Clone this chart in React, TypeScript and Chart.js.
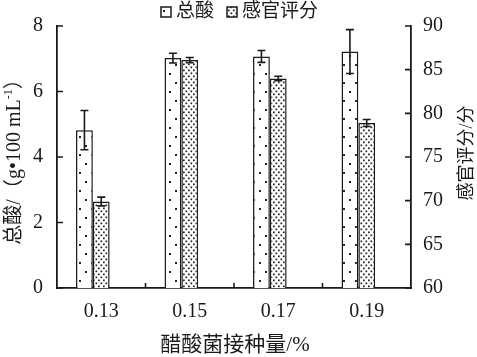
import React, { useEffect, useRef } from "react";
import { Chart, registerables } from "chart.js";

Chart.register(...registerables);

const categories = ["0.13", "0.15", "0.17", "0.19"];
const totalAcid = [4.82, 7.02, 7.07, 7.22];
const totalAcidErr = [0.6, 0.15, 0.18, 0.67];
const sensoryScore = [69.9, 86.1, 84.0, 78.9];
const sensoryErr = [0.5, 0.3, 0.25, 0.4];
const seriesNames = ["总酸", "感官评分"];
const xTitle = "醋酸菌接种量/%";
const leftTitleMain = "总酸/（g•100 mL";
const leftTitleSup = "-1";
const leftTitleEnd = "）";
const rightTitle = "感官评分/分";

const SERIF = '"Liberation Serif", "Noto Sans CJK SC", serif';
const INK = "#1a1a1a";

function makePattern(kind: "sparse" | "dense"): CanvasPattern | string {
  const c = document.createElement("canvas");
  const ctx = c.getContext("2d");
  if (!ctx) return "#fff";
  if (kind === "sparse") {
    c.width = 12;
    c.height = 18;
    ctx.fillStyle = "#fff";
    ctx.fillRect(0, 0, 12, 18);
    ctx.fillStyle = "#222";
    ctx.fillRect(1, 1, 2, 2);
    ctx.fillRect(7, 10, 2, 2);
  } else {
    c.width = 5;
    c.height = 6;
    ctx.fillStyle = "#fff";
    ctx.fillRect(0, 0, 5, 6);
    ctx.fillStyle = "#222";
    ctx.fillRect(0.5, 0.5, 1.7, 1.7);
    ctx.fillRect(3, 3.5, 1.7, 1.7);
  }
  const p = ctx.createPattern(c, "repeat");
  return p || "#fff";
}

const errorBars = {
  id: "errorBars",
  afterDatasetsDraw(chart: any) {
    const ctx = chart.ctx;
    const errs = [totalAcidErr, sensoryErr];
    const vals = [totalAcid, sensoryScore];
    ctx.save();
    ctx.strokeStyle = INK;
    ctx.lineWidth = 1.6;
    [0, 1].forEach((di) => {
      const meta = chart.getDatasetMeta(di);
      const scale = chart.scales[chart.data.datasets[di].yAxisID];
      meta.data.forEach((bar: any, i: number) => {
        const v = vals[di][i];
        const e = errs[di][i];
        const yt = scale.getPixelForValue(v + e);
        const yb = scale.getPixelForValue(v - e);
        const x = bar.x;
        ctx.beginPath();
        ctx.moveTo(x, yt);
        ctx.lineTo(x, yb);
        ctx.moveTo(x - 4, yt);
        ctx.lineTo(x + 4, yt);
        ctx.moveTo(x - 4, yb);
        ctx.lineTo(x + 4, yb);
        ctx.stroke();
      });
    });
    ctx.restore();
  },
};

const decorations = {
  id: "decorations",
  afterDraw(chart: any) {
    const ctx = chart.ctx;
    const { left, right, bottom } = chart.chartArea;
    const yL = chart.scales.y;
    const yR = chart.scales.y1;
    const xs = chart.scales.x;
    ctx.save();
    ctx.strokeStyle = INK;
    ctx.lineWidth = 1.6;
    ctx.beginPath();
    yL.ticks.forEach((t: any) => {
      const y = yL.getPixelForValue(t.value);
      ctx.moveTo(left, y);
      ctx.lineTo(left + 6, y);
    });
    yR.ticks.forEach((t: any) => {
      const y = yR.getPixelForValue(t.value);
      ctx.moveTo(right - 6, y);
      ctx.lineTo(right, y);
    });
    for (let i = 0; i < categories.length - 1; i++) {
      const x = (xs.getPixelForValue(i) + xs.getPixelForValue(i + 1)) / 2;
      ctx.moveTo(x, bottom);
      ctx.lineTo(x, bottom - 5);
    }
    ctx.stroke();

    // legend
    ctx.fillStyle = INK;
    ctx.font = `19px ${SERIF}`;
    ctx.textBaseline = "middle";
    ctx.textAlign = "left";
    const pats = chart.data.datasets.slice(0, 2).map((d: any) => d.backgroundColor);
    let lx = 161;
    const ly = 12;
    seriesNames.forEach((name, i) => {
      ctx.fillStyle = pats[i];
      ctx.fillRect(lx, ly - 5, 10, 10);
      ctx.lineWidth = 1.5;
      ctx.strokeRect(lx, ly - 5, 10, 10);
      ctx.fillStyle = INK;
      ctx.fillText(name, lx + 15, ly);
      lx += 15 + ctx.measureText(name).width + 13;
    });

    // x title
    ctx.font = `21px ${SERIF}`;
    ctx.textAlign = "center";
    ctx.fillText(xTitle, 235, 345);

    // left title (rotated)
    ctx.save();
    ctx.translate(15, 157);
    ctx.rotate(-Math.PI / 2);
    ctx.textAlign = "left";
    ctx.font = `20px ${SERIF}`;
    const w1 = ctx.measureText(leftTitleMain).width;
    ctx.font = `12px ${SERIF}`;
    const w2 = ctx.measureText(leftTitleSup).width;
    ctx.font = `20px ${SERIF}`;
    const w3 = ctx.measureText(leftTitleEnd).width;
    let sx = -(w1 + w2 + w3) / 2;
    ctx.fillText(leftTitleMain, sx, 0);
    sx += w1;
    ctx.font = `12px ${SERIF}`;
    ctx.fillText(leftTitleSup, sx, -6);
    sx += w2;
    ctx.font = `20px ${SERIF}`;
    ctx.fillText(leftTitleEnd, sx, 0);
    ctx.restore();

    // right title
    ctx.save();
    ctx.translate(467, 153);
    ctx.rotate(-Math.PI / 2);
    ctx.textAlign = "center";
    ctx.font = `18px ${SERIF}`;
    ctx.fillText(rightTitle, 0, 0);
    ctx.restore();

    ctx.restore();
  },
};

export default function App() {
  const ref = useRef<HTMLCanvasElement | null>(null);
  useEffect(() => {
    document.body.style.margin = "0";
    const canvas = ref.current;
    if (!canvas) return;
    const sparse = makePattern("sparse");
    const dense = makePattern("dense");
    const chart = new Chart(canvas, {
      type: "bar",
      data: {
        labels: categories,
        datasets: [
          {
            label: seriesNames[0],
            data: totalAcid,
            yAxisID: "y",
            backgroundColor: sparse as any,
            borderColor: INK,
            borderWidth: 1.5,
            categoryPercentage: 0.57,
            barPercentage: 1,
          },
          {
            label: seriesNames[1],
            data: sensoryScore,
            yAxisID: "y1",
            backgroundColor: dense as any,
            borderColor: INK,
            borderWidth: 1.5,
            categoryPercentage: 0.57,
            barPercentage: 1,
          },
          {
            label: "",
            data: categories.map(() => null),
            yAxisID: "y",
            categoryPercentage: 0.57,
            barPercentage: 1,
          },
        ],
      },
      options: {
        responsive: false,
        animation: false,
        layout: { padding: { top: 12, left: 0, right: 0, bottom: 0 } },
        plugins: { legend: { display: false }, tooltip: { enabled: false } },
        scales: {
          x: {
            grid: { display: false, drawTicks: false },
            border: { display: true, color: INK, width: 1.8 },
            ticks: { font: { family: SERIF, size: 20 }, color: INK, padding: 12 },
            afterFit: (s: any) => {
              s.height = 69;
            },
          },
          y: {
            position: "left",
            min: 0,
            max: 8,
            grid: { display: false, drawTicks: false },
            border: { display: true, color: INK, width: 1.8 },
            ticks: { stepSize: 2, font: { family: SERIF, size: 20 }, color: INK, padding: 14 },
            afterFit: (s: any) => {
              s.width = 57;
            },
          },
          y1: {
            position: "right",
            min: 60,
            max: 90,
            grid: { display: false, drawTicks: false },
            border: { display: true, color: INK, width: 1.8 },
            ticks: { stepSize: 5, font: { family: SERIF, size: 20 }, color: INK, padding: 12 },
            afterFit: (s: any) => {
              s.width = 66;
            },
          },
        },
      },
      plugins: [errorBars, decorations],
    });
    return () => chart.destroy();
  }, []);
  return (
    <div style={{ width: 477, height: 357 }}>
      <canvas ref={ref} width={477} height={357} />
    </div>
  );
}
